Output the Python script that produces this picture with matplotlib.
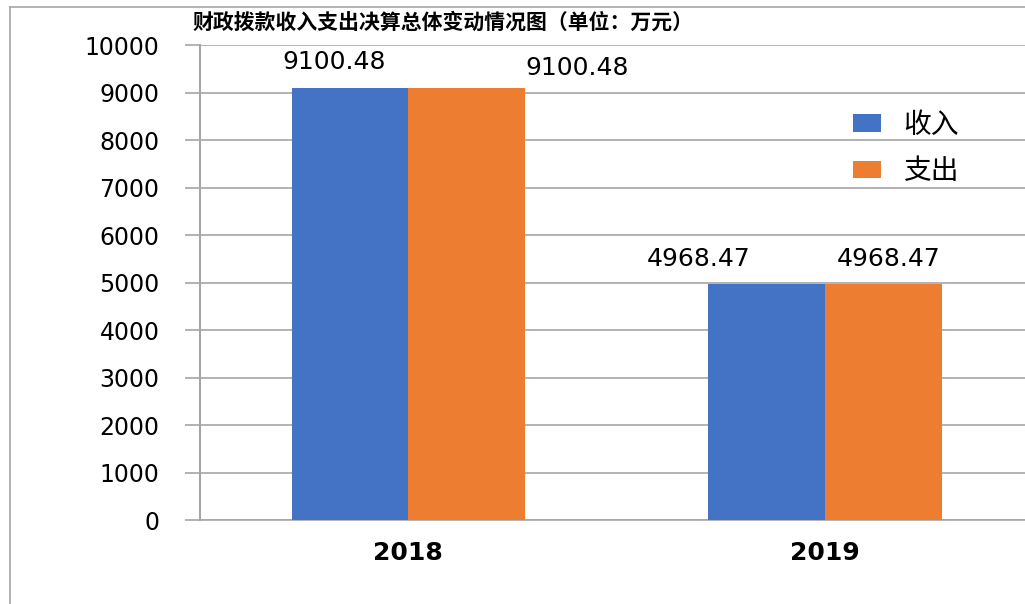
import matplotlib.pyplot as plt
from matplotlib.lines import Line2D

plt.rcParams['font.family'] = ['DejaVu Sans', 'Noto Sans CJK SC']
plt.rcParams['axes.unicode_minus'] = False

# 数据
years = ['2018', '2019']
income = [9100.48, 4968.47]
expense = [9100.48, 4968.47]
series_names = ['收入', '支出']
yticks = [0, 1000, 2000, 3000, 4000, 5000, 6000, 7000, 8000, 9000, 10000]
title = '财政拨款收入支出决算总体变动情况图（单位：万元）'

blue = '#4472C4'
orange = '#ED7D31'
grid_c = '#A6A6A6'

fig = plt.figure(figsize=(10.25, 6.04), dpi=100)
ax = fig.add_axes([0.195, 0.139, 0.813, 0.7864])

x = list(range(len(years)))
w = 0.28
b1 = ax.bar([i - w / 2 for i in x], income, w, color=blue, label=series_names[0], zorder=3)
b2 = ax.bar([i + w / 2 for i in x], expense, w, color=orange, label=series_names[1], zorder=3)

ax.set_xlim(-0.5, 1.5)
ax.set_ylim(0, 10000)
ax.set_yticks(yticks)
ax.set_yticklabels([str(t) for t in yticks], fontsize=17)
ax.set_xticks(x)
ax.set_xticklabels(years, fontsize=18, fontweight='bold')
ax.tick_params(axis='x', length=0, pad=15)
ax.tick_params(axis='y', length=11, width=1.2, color=grid_c, direction='out', pad=18)

ax.grid(axis='y', color=grid_c, linewidth=1.2, zorder=0)
ax.set_axisbelow(True)
for s in ['top', 'right']:
    ax.spines[s].set_visible(False)
ax.spines['left'].set_color(grid_c)
ax.spines['left'].set_linewidth(1.5)
ax.spines['bottom'].set_color(grid_c)
ax.spines['bottom'].set_linewidth(1.2)

# 数据标签 (手动偏移, 像素)
offsets = [(-16, 26), (-68, 25)]
for bar, (dx, dy) in zip(b1, offsets):
    ax.annotate(f'{bar.get_height():.2f}', (bar.get_x() + bar.get_width() / 2, bar.get_height()),
                xytext=(dx, dy), textcoords='offset pixels', ha='center', va='center', fontsize=18)
offsets = [(111, 20), (5, 25)]
for bar, (dx, dy) in zip(b2, offsets):
    ax.annotate(f'{bar.get_height():.2f}', (bar.get_x() + bar.get_width() / 2, bar.get_height()),
                xytext=(dx, dy), textcoords='offset pixels', ha='center', va='center', fontsize=18)

ax.legend(loc='upper left', bbox_to_anchor=(0.808, 0.86), bbox_transform=fig.transFigure,
          frameon=False, handlelength=1.0, handleheight=0.6,
          handletextpad=0.8, labelspacing=0.6, prop={'family': 'Noto Sans CJK SC', 'size': 20})

fig.text(0.188, 1 - 22 / 604, title, fontsize=15, fontweight='bold',
         family='Noto Sans CJK SC', ha='left', va='center')

# 外边框 (左侧和顶部)
fig.add_artist(Line2D([10 / 1025, 10 / 1025], [0, 1 - 7 / 604], color=grid_c, linewidth=1.2,
                      transform=fig.transFigure))
fig.add_artist(Line2D([10 / 1025, 1], [1 - 7 / 604, 1 - 7 / 604], color=grid_c, linewidth=1.2,
                      transform=fig.transFigure))

fig.savefig('out.png', dpi=100)
